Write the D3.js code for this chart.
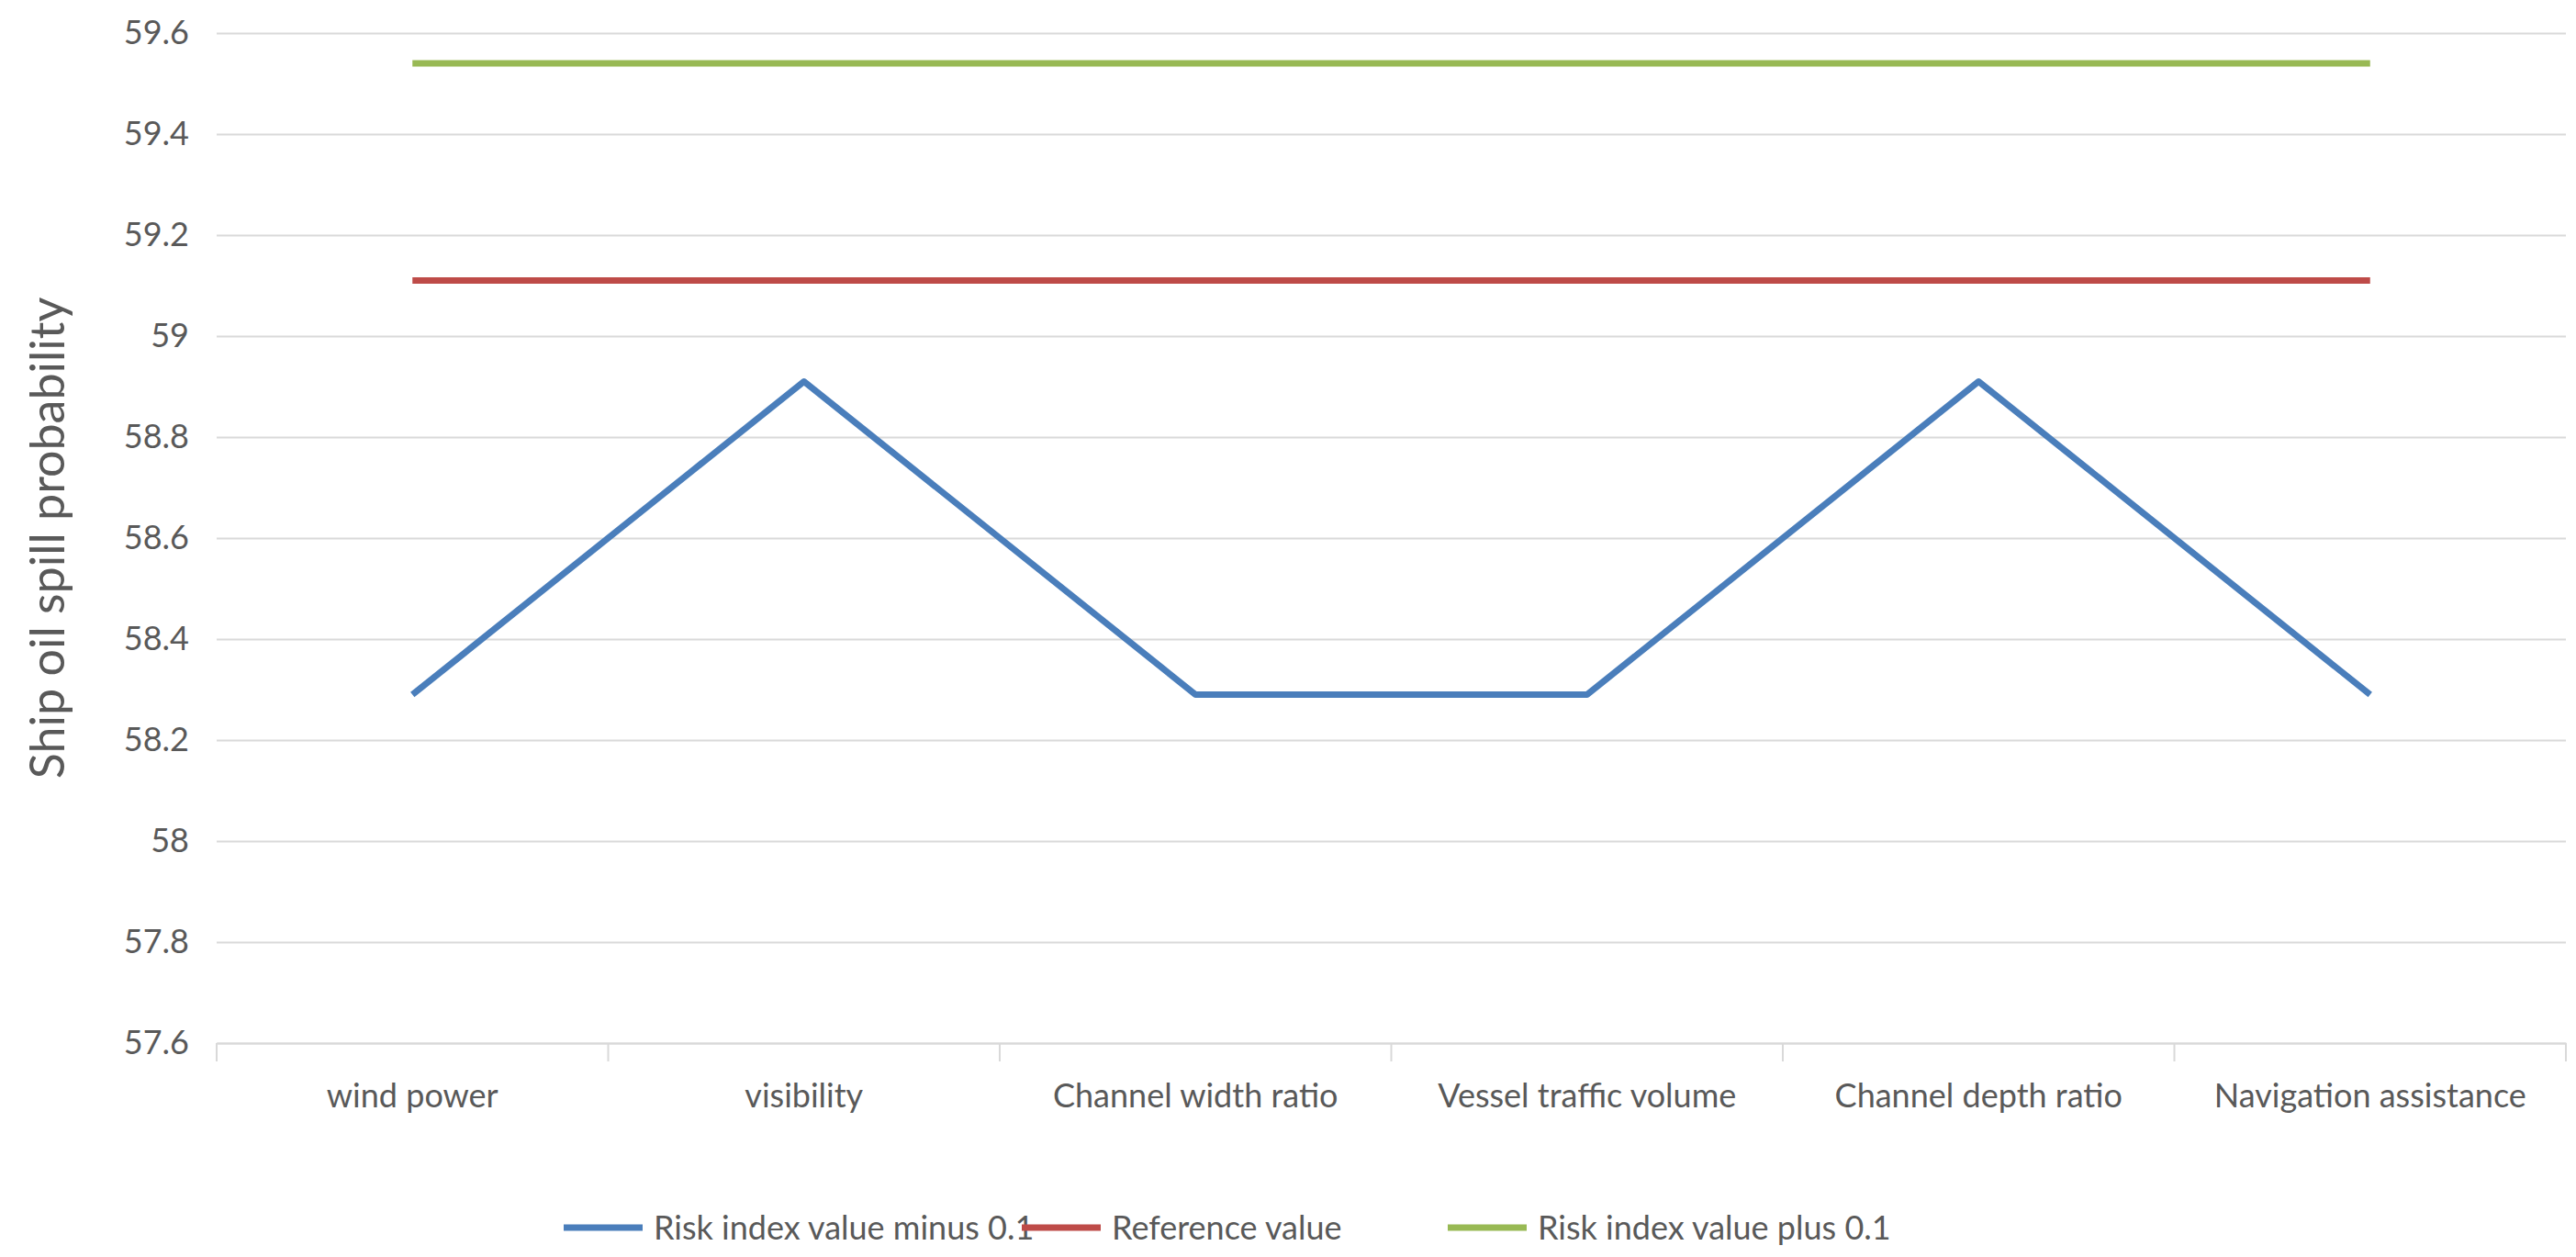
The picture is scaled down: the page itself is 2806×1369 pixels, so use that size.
<!DOCTYPE html>
<html><head><meta charset="utf-8">
<script src="https://cdn.jsdelivr.net/npm/d3@7"></script>
<style>body{margin:0;background:#fff}</style></head>
<body><svg id="c" width="2806" height="1369"></svg>
<script>
const categories=["wind power","visibility","Channel width ratio","Vessel traffic volume","Channel depth ratio","Navigation assistance"];
const minusValues=[58.29,58.91,58.29,58.29,58.91,58.29];
const refValues=[59.11,59.11,59.11,59.11,59.11,59.11];
const plusValues=[59.54,59.54,59.54,59.54,59.54,59.54];
const seriesNames=["Risk index value minus 0.1","Reference value","Risk index value plus 0.1"];
const colors=["#4a7ebb","#be4b48","#98b954"];
const yTicks=[57.6,57.8,58,58.2,58.4,58.6,58.8,59,59.2,59.4,59.6];
const series=[minusValues,refValues,plusValues];

const svg=d3.select("#c");
const font="Lato, 'Open Sans', sans-serif";
const L=236,R=2795,T=36,B=1136;
const x=d3.scaleBand().domain(categories).range([L,R]);
const y=d3.scaleLinear().domain([57.6,59.6]).range([B,T]);

svg.append("g").attr("transform",`translate(${L},0)`)
 .call(d3.axisLeft(y).tickValues(yTicks).tickSize(-(R-L)).tickFormat(d=>d3.format("")(+d.toFixed(1))))
 .call(g=>{g.select(".domain").remove();
   g.selectAll("line").attr("stroke","#d9d9d9").attr("stroke-width",2);
   g.selectAll("text").attr("x",-30).attr("font-size",36).attr("fill","#595959").attr("font-family",font);});
svg.append("g").attr("transform",`translate(0,${B})`)
 .call(d3.axisBottom(x).tickSize(0).tickPadding(44))
 .call(g=>{g.select(".domain").attr("stroke","#d9d9d9").attr("stroke-width",2);
   g.selectAll("text").attr("font-size",36).attr("fill","#595959").attr("font-family",font);});
svg.append("g").selectAll("line").data(d3.range(categories.length+1)).join("line")
 .attr("x1",i=>L+i*x.step()).attr("x2",i=>L+i*x.step()).attr("y1",B).attr("y2",B+20)
 .attr("stroke","#d9d9d9").attr("stroke-width",2);

const line=d3.line().x((d,i)=>x(categories[i])+x.bandwidth()/2).y(d=>y(d));
series.forEach((s,k)=>svg.append("path").datum(s).attr("d",line).attr("fill","none")
 .attr("stroke",colors[k]).attr("stroke-width",7).attr("stroke-linejoin","round"));

svg.append("text").attr("transform",`translate(70,${(T+B)/2}) rotate(-90)`).attr("text-anchor","middle")
 .attr("font-size",52).attr("fill","#595959").attr("font-family",font).text("Ship oil spill probability");

const legX=[614,1113,1577];
const lg=svg.append("g").selectAll("g").data(seriesNames).join("g").attr("transform",(d,i)=>`translate(${legX[i]},1337)`);
lg.append("line").attr("x1",0).attr("x2",86).attr("stroke",(d,i)=>colors[i]).attr("stroke-width",7);
lg.append("text").attr("x",98).attr("dy","0.35em").attr("font-size",36).attr("fill","#595959").attr("font-family",font).text(d=>d);
</script></body></html>
